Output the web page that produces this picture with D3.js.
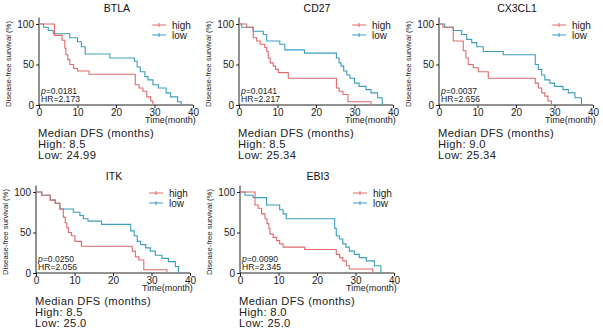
<!DOCTYPE html>
<html><head><meta charset="utf-8">
<script src="https://cdn.jsdelivr.net/npm/d3@7"></script>
<style>body{margin:0;background:#fff}svg{display:block}</style>
</head><body>
<script>
// ---- data ----
const genes = ["BTLA", "CD27", "CX3CL1", "ITK", "EBI3"];
const pValues = ["0.0181", "0.0141", "0.0037", "0.0250", "0.0090"];
const hrValues = ["2.173", "2.217", "2.656", "2.056", "2.345"];
const medianHigh = ["8.5", "8.5", "9.0", "8.5", "8.0"];
const medianLow = ["24.99", "25.34", "25.34", "25.0", "25.0"];
const xTicks = [0, 10, 20, 30, 40];
const yTicks = [0, 50, 100];
const seriesNames = ["high", "low"];

const btlaHighT = [0, 4, 6, 6.7, 7, 7.5, 8, 9, 10, 13, 25, 26, 27, 28, 29, 29.6];
const btlaHighS = [100, 86, 80, 70, 62, 56, 50, 45, 42, 38, 25, 21, 17, 10, 5, 0];
const btlaLowT = [0, 1.2, 2.4, 3.7, 8, 10, 11, 12, 18.4, 24.8, 25.5, 26.3, 27.5, 28.3, 29.6, 31, 33, 34.2, 36, 36.9];
const btlaLowS = [100, 96, 92, 88, 83, 78, 72, 63, 58, 54, 47, 41, 35, 31, 25, 21, 15, 10, 4, 0];

const cd27HighT = [0, 2, 3.7, 4.6, 5.5, 6.7, 7.2, 7.6, 8.1, 8.9, 9.5, 10.2, 12.8, 25.3, 26, 27, 28.3, 34.3];
const cd27HighS = [100, 96, 83, 79, 75, 71, 66, 58, 52, 48, 44, 40, 33, 21, 17, 13, 4, 0];
const cd27LowT = [0, 0.7, 3.7, 6.3, 7.2, 10.6, 11.9, 17, 25.3, 26, 26.5, 27.2, 28, 28.8, 30, 31.2, 33, 34.3, 36, 37.2];
const cd27LowS = [100, 96, 91, 87, 79, 75, 68, 64, 58, 52, 48, 42, 37, 33, 27, 23, 19, 15, 9, 0];

const cx3HighT = [0, 1, 3.7, 6.3, 7, 7.6, 8.9, 10.2, 12.8, 25, 25.8, 26.7, 27.5, 28.3, 29.2];
const cx3HighS = [100, 96, 79, 67, 58, 50, 46, 41, 33, 27, 21, 15, 11, 5, 0];
const cx3LowT = [0, 1.5, 3.7, 5.9, 7.2, 8.5, 9.8, 11.5, 16.7, 25, 25.8, 26.7, 27.5, 28.8, 30, 32.2, 33.6, 35.3, 37];
const cx3LowS = [100, 96, 92, 87, 81, 77, 72, 66, 62, 50, 44, 37, 31, 27, 23, 19, 15, 9, 0];

const itkHighT = [0, 1.5, 3.7, 5, 6.2, 7.1, 7.6, 8, 8.4, 9.2, 10.1, 11.8, 25, 25.8, 26.7, 28, 34];
const itkHighS = [100, 96, 90, 86, 79, 69, 62, 56, 50, 46, 39, 33, 27, 20, 16, 4, 0];
const itkLowT = [0, 1.5, 3.7, 5, 6.2, 9.7, 11.4, 12.3, 13.5, 17, 24.6, 25.5, 26.3, 27.2, 28.5, 29.7, 31, 32.7, 34.4, 36.2, 37];
const itkLowS = [100, 96, 90, 86, 79, 75, 71, 67, 64, 60, 52, 46, 39, 35, 31, 27, 22, 18, 14, 8, 0];

const ebi3HighT = [0, 3.9, 4.7, 5.6, 6.5, 7, 7.5, 7.8, 8.6, 9.5, 10.3, 11.2, 16.8, 25, 25.9, 26.7, 27.6, 28.4, 34.5];
const ebi3HighS = [100, 84, 80, 73, 67, 61, 55, 48, 44, 40, 36, 32, 29, 23, 19, 15, 9, 5, 0];
const ebi3LowT = [0, 1.3, 3.4, 6.9, 10.3, 11.2, 12, 24.6, 25, 25.8, 26.7, 27.5, 28.4, 29.7, 31, 32.8, 34.9, 36.6];
const ebi3LowS = [100, 96, 93, 84, 78, 73, 67, 55, 46, 42, 36, 32, 27, 23, 19, 15, 9, 0];

const highT = [btlaHighT, cd27HighT, cx3HighT, itkHighT, ebi3HighT];
const highS = [btlaHighS, cd27HighS, cx3HighS, itkHighS, ebi3HighS];
const lowT = [btlaLowT, cd27LowT, cx3LowT, itkLowT, ebi3LowT];
const lowS = [btlaLowS, cd27LowS, cx3LowS, itkLowS, ebi3LowS];

// ---- layout ----
const W = 603, H = 331;
const colors = {high: "#e06a6c", low: "#3a9dbf"};
const panelOrigin = [[0, 0], [200, 0], [400, 0], [-3, 168], [201, 168]];
const svg = d3.select("body").append("svg").attr("width", W).attr("height", H);
const font = "'Liberation Sans', Arial, sans-serif";

genes.forEach((g, i) => {
  const [ox, oy] = panelOrigin[i];
  const left = ox + 39, right = ox + 193, top = oy + 24, bottom = oy + 105;
  const x = d3.scaleLinear().domain([0, 40]).range([left, right]);
  const y = d3.scaleLinear().domain([0, 100]).range([bottom, top]);
  const p = svg.append("g");

  // title
  p.append("text").attr("x", ox + 117).attr("y", oy + 12).attr("text-anchor", "middle")
    .attr("font-family", font).attr("font-size", 10.5).attr("fill", "#111").text(g);

  // axes
  const ya = p.append("g").attr("transform", `translate(${left},0)`)
    .call(d3.axisLeft(y).tickValues(yTicks).tickSize(3).tickPadding(2));
  ya.select(".domain").attr("d", `M0,${y(108)}V${bottom}`);
  const xa = p.append("g").attr("transform", `translate(0,${bottom})`)
    .call(d3.axisBottom(x).tickValues(xTicks).tickSize(3).tickPadding(1));
  xa.select(".domain").attr("d", `M${left},0H${right}`);
  [ya, xa].forEach(a => {
    a.selectAll("text").attr("font-family", font).attr("font-size", 10).attr("fill", "#222");
    a.selectAll("line,path").attr("stroke", "#222").attr("stroke-width", 1);
  });

  p.append("text").attr("x", ox + 145).attr("y", oy + 123)
    .attr("font-family", font).attr("font-size", 9).attr("fill", "#222").text("Time(month)");

  p.append("text").attr("transform", `translate(${ox + 11},${oy + 64}) rotate(-90)`)
    .attr("text-anchor", "middle").attr("font-family", font).attr("font-size", 8)
    .attr("textLength", 86).attr("lengthAdjust", "spacingAndGlyphs").attr("fill", "#222")
    .text("Disease-free survival (%)");

  // curves
  const line = d3.line().x(d => x(d[0])).y(d => y(d[1])).curve(d3.curveStepAfter);
  [["low", lowT[i], lowS[i]], ["high", highT[i], highS[i]]].forEach(([name, T, S]) => {
    const pts = T.map((t, k) => [t, S[k]]);
    p.append("path").datum(pts).attr("d", line).attr("fill", "none")
      .attr("stroke", colors[name]).attr("stroke-width", 1.1);
  });

  // legend
  seriesNames.forEach((s, k) => {
    const ly = oy + 25 + k * 10;
    p.append("line").attr("x1", ox + 152).attr("x2", ox + 166).attr("y1", ly).attr("y2", ly)
      .attr("stroke", colors[s]).attr("stroke-width", 1);
    p.append("line").attr("x1", ox + 159).attr("x2", ox + 159).attr("y1", ly - 2).attr("y2", ly + 2)
      .attr("stroke", colors[s]).attr("stroke-width", 1);
    p.append("text").attr("x", ox + 172).attr("y", ly + 3.5).attr("font-family", font)
      .attr("font-size", 10).attr("fill", "#222").text(s);
  });

  // stats
  const st = p.append("text").attr("x", left + 2).attr("y", oy + 94).attr("font-family", font)
    .attr("font-size", 8.6).attr("fill", "#222");
  st.append("tspan").attr("font-style", "italic").text("p");
  st.append("tspan").text("=" + pValues[i]);
  p.append("text").attr("x", left + 2).attr("y", oy + 102).attr("font-family", font)
    .attr("font-size", 8.6).attr("fill", "#222").text("HR=" + hrValues[i]);

  // median text
  const mt = [["Median DFS (months)", 137], ["High: " + medianHigh[i], 148], ["Low: " + medianLow[i], 158.5]];
  mt.forEach(([t, yy]) => {
    p.append("text").attr("x", ox + 38).attr("y", oy + yy).attr("font-family", font)
      .attr("font-size", 11.2).attr("letter-spacing", 0.35).attr("fill", "#222").text(t);
  });
});
</script>
</body></html>
